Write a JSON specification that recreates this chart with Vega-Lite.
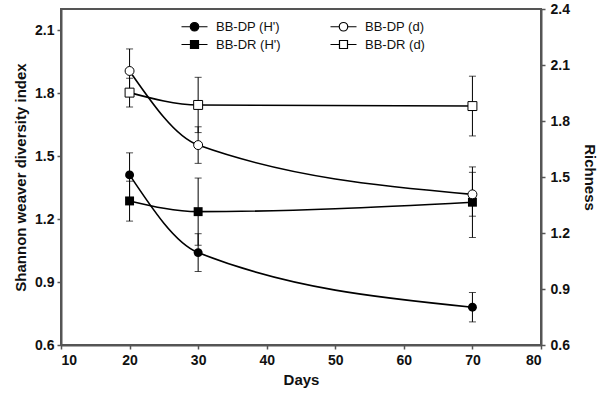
{
  "$schema": "https://vega.github.io/schema/vega-lite/v6.json",
  "width": 480,
  "height": 336,
  "autosize": {"type": "none"},
  "padding": {"left": 61, "top": 9, "right": 59, "bottom": 55},
  "background": "white",
  "config": {
    "font": "Liberation Sans",
    "view": {"stroke": "#555", "strokeWidth": 2},
    "axis": {
      "grid": false,
      "labelFont": "Liberation Sans",
      "labelFontWeight": "bold",
      "labelFontSize": 14,
      "labelColor": "#111",
      "titleFont": "Liberation Sans",
      "titleFontWeight": "bold",
      "titleFontSize": 15,
      "titleColor": "#111",
      "domainColor": "#555",
      "domainWidth": 2,
      "tickColor": "#555",
      "tickWidth": 1.5,
      "tickSize": 4
    },
    "legend": {
      "title": null,
      "orient": "none",
      "legendX": 127,
      "legendY": 11,
      "columns": 2,
      "columnPadding": 47,
      "rowPadding": 4,
      "padding": 0,
      "symbolSize": 100,
      "symbolOpacity": 1,
      "symbolStrokeColor": "black",
      "symbolStrokeWidth": 1.2,
      "labelOffset": 15,
      "labelFont": "Liberation Sans",
      "labelFontSize": 13,
      "labelColor": "#111"
    }
  },
  "datasets": {
    "H": [
      {"series": "BB-DP (H')", "days": 20, "value": 1.41, "lo": 1.30, "hi": 1.515},
      {"series": "BB-DP (H')", "days": 30, "value": 1.04, "lo": 0.95, "hi": 1.13},
      {"series": "BB-DP (H')", "days": 70, "value": 0.78, "lo": 0.71, "hi": 0.85},
      {"series": "BB-DR (H')", "days": 20, "value": 1.286, "lo": 1.19, "hi": 1.38},
      {"series": "BB-DR (H')", "days": 30, "value": 1.235, "lo": 1.075, "hi": 1.395},
      {"series": "BB-DR (H')", "days": 70, "value": 1.28, "lo": 1.112, "hi": 1.448}
    ],
    "D": [
      {"series": "BB-DP (d)", "days": 20, "value": 2.068, "lo": 1.95, "hi": 2.186},
      {"series": "BB-DP (d)", "days": 30, "value": 1.671, "lo": 1.573, "hi": 1.769},
      {"series": "BB-DP (d)", "days": 70, "value": 1.407, "lo": 1.29, "hi": 1.525},
      {"series": "BB-DR (d)", "days": 20, "value": 1.952, "lo": 1.875, "hi": 2.029},
      {"series": "BB-DR (d)", "days": 30, "value": 1.886, "lo": 1.738, "hi": 2.034},
      {"series": "BB-DR (d)", "days": 70, "value": 1.88, "lo": 1.72, "hi": 2.04}
    ],
    "leg": [
      {"name": "BB-DP (H')"},
      {"name": "BB-DR (H')"},
      {"name": "BB-DP (d)"},
      {"name": "BB-DR (d)"}
    ]
  },
  "layer": [
    {
      "data": {"name": "H"},
      "encoding": {
        "x": {"field": "days", "type": "quantitative", "scale": {"domain": [10, 80], "nice": false}, "axis": {"values": [10, 20, 30, 40, 50, 60, 70, 80], "title": "Days", "labelPadding": 4, "titlePadding": 5}}
      },
      "layer": [
        {
          "mark": {"type": "rule", "color": "black", "strokeWidth": 1},
          "encoding": {
            "y": {"field": "lo", "type": "quantitative", "scale": {"domain": [0.6, 2.2], "nice": false, "zero": false}, "axis": {"values": [0.6, 0.9, 1.2, 1.5, 1.8, 2.1], "format": ".1f", "title": "Shannon weaver diversity index", "titlePadding": 6, "labelPadding": 3}},
            "y2": {"field": "hi"}
          }
        },
        {
          "mark": {"type": "tick", "orient": "horizontal", "color": "black", "size": 7, "thickness": 1},
          "encoding": {"y": {"field": "lo", "type": "quantitative"}}
        },
        {
          "mark": {"type": "tick", "orient": "horizontal", "color": "black", "size": 7, "thickness": 1},
          "encoding": {"y": {"field": "hi", "type": "quantitative"}}
        },
        {
          "mark": {"type": "line", "color": "black", "strokeWidth": 1.6, "interpolate": "monotone"},
          "encoding": {
            "y": {"field": "value", "type": "quantitative"},
            "detail": {"field": "series"}
          }
        },
        {
          "mark": {"type": "point", "filled": true, "color": "black", "size": 80, "opacity": 1},
          "encoding": {
            "y": {"field": "value", "type": "quantitative"},
            "shape": {"field": "series", "type": "nominal", "scale": {"domain": ["BB-DP (H')", "BB-DR (H')"], "range": ["circle", "square"]}, "legend": null}
          }
        }
      ]
    },
    {
      "data": {"name": "D"},
      "encoding": {
        "x": {"field": "days", "type": "quantitative", "scale": {"domain": [10, 80], "nice": false}, "axis": {"values": [10, 20, 30, 40, 50, 60, 70, 80], "title": "Days", "labelPadding": 4, "titlePadding": 5}}
      },
      "layer": [
        {
          "mark": {"type": "rule", "color": "black", "strokeWidth": 1},
          "encoding": {
            "y": {"field": "lo", "type": "quantitative", "scale": {"domain": [0.6, 2.4], "nice": false, "zero": false}, "axis": {"orient": "right", "values": [0.6, 0.9, 1.2, 1.5, 1.8, 2.1, 2.4], "format": ".1f", "title": "Richness", "titlePadding": 12, "labelPadding": 5}},
            "y2": {"field": "hi"}
          }
        },
        {
          "mark": {"type": "tick", "orient": "horizontal", "color": "black", "size": 7, "thickness": 1},
          "encoding": {"y": {"field": "lo", "type": "quantitative"}}
        },
        {
          "mark": {"type": "tick", "orient": "horizontal", "color": "black", "size": 7, "thickness": 1},
          "encoding": {"y": {"field": "hi", "type": "quantitative"}}
        },
        {
          "mark": {"type": "line", "color": "black", "strokeWidth": 1.6, "interpolate": "monotone"},
          "encoding": {
            "y": {"field": "value", "type": "quantitative"},
            "detail": {"field": "series"}
          }
        },
        {
          "mark": {"type": "point", "filled": false, "fill": "white", "stroke": "black", "strokeWidth": 1, "size": 80, "opacity": 1},
          "encoding": {
            "y": {"field": "value", "type": "quantitative"},
            "shape": {"field": "series", "type": "nominal", "scale": {"domain": ["BB-DP (d)", "BB-DR (d)"], "range": ["circle", "square"]}, "legend": null}
          }
        }
      ]
    },
    {
      "data": {"name": "leg"},
      "mark": {"type": "point", "opacity": 0, "strokeWidth": 1.2},
      "encoding": {
        "shape": {
          "field": "name", "type": "nominal",
          "scale": {
            "domain": ["BB-DP (H')", "BB-DR (H')", "BB-DP (d)", "BB-DR (d)"],
            "range": [
              "M-2.6,0L-0.85,0M2.6,0L0.85,0M0.85,0A0.85,0.85,0,1,1,-0.85,0A0.85,0.85,0,1,1,0.85,0Z",
              "M-2.6,0L-0.8,0M2.6,0L0.8,0M-0.8,-0.8L0.8,-0.8L0.8,0.8L-0.8,0.8Z",
              "M-2.6,0L-0.85,0M2.6,0L0.85,0M0.85,0A0.85,0.85,0,1,1,-0.85,0A0.85,0.85,0,1,1,0.85,0Z",
              "M-2.6,0L-0.8,0M2.6,0L0.8,0M-0.8,-0.8L0.8,-0.8L0.8,0.8L-0.8,0.8Z"
            ]
          }
        },
        "fill": {
          "field": "name", "type": "nominal",
          "scale": {
            "domain": ["BB-DP (H')", "BB-DR (H')", "BB-DP (d)", "BB-DR (d)"],
            "range": ["black", "black", "white", "white"]
          }
        },
        "stroke": {
          "field": "name", "type": "nominal",
          "scale": {
            "domain": ["BB-DP (H')", "BB-DR (H')", "BB-DP (d)", "BB-DR (d)"],
            "range": ["black", "black", "black", "black"]
          }
        }
      }
    }
  ],
  "resolve": {"scale": {"y": "independent", "shape": "independent", "fill": "independent", "stroke": "independent"}}
}
